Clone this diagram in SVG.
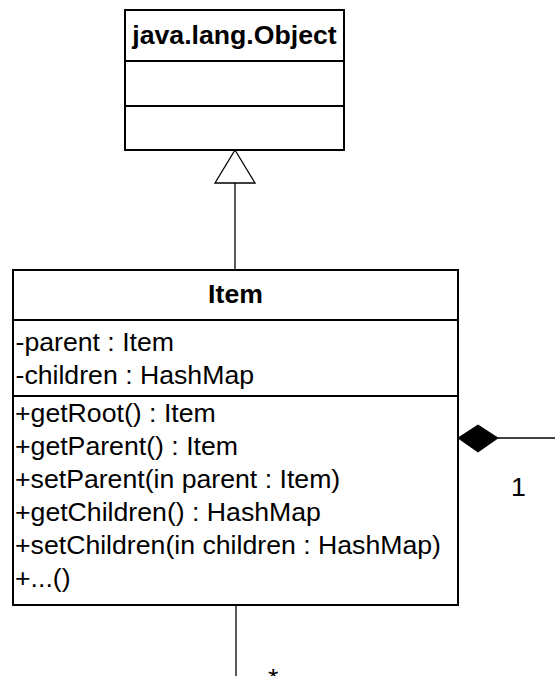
<svg xmlns="http://www.w3.org/2000/svg" width="555" height="676" viewBox="0 0 555 676">
  <style>
    .box { fill: #ffffff; stroke: #000000; stroke-width: 2; }
    .sep { stroke: #000000; stroke-width: 2; }
    .title { font-family: "Liberation Sans", Arial, sans-serif; font-size: 26.67px; font-weight: bold; fill: #000000; text-anchor: middle; }
    .member { font-family: "Liberation Sans", Arial, sans-serif; font-size: 26.67px; fill: #000000; }
    .conn { stroke: #000000; stroke-width: 1.3; fill: none; }
    .label { font-family: "Liberation Sans", Arial, sans-serif; font-size: 26.67px; fill: #000000; }
  </style>
  <rect width="555" height="676" fill="#ffffff"/>

  <g id="connectors">
    <line class="conn" x1="235" y1="183" x2="235" y2="270"/>
    <polygon points="235,150 255,183 215,183" fill="#ffffff" stroke="#000000" stroke-width="1.3"/>
    <line class="conn" x1="498" y1="438" x2="555" y2="438"/>
    <polygon points="458,438 478,425 498,438 478,452" fill="#000000" stroke="#000000" stroke-width="1"/>
    <line class="conn" x1="236" y1="605" x2="236" y2="676"/>
    <text class="label" x="511" y="495.5">1</text>
    <text class="label" x="268" y="686.5">*</text>
  </g>

  <g id="java-lang-object">
    <rect class="box" x="125" y="10" width="219" height="140"/>
    <line class="sep" x1="125" y1="61" x2="344" y2="61"/>
    <line class="sep" x1="125" y1="106" x2="344" y2="106"/>
    <text class="title" x="234.5" y="44">java.lang.Object</text>
  </g>

  <g id="item">
    <rect class="box" x="13" y="270" width="445" height="335"/>
    <line class="sep" x1="13" y1="320" x2="458" y2="320"/>
    <line class="sep" x1="13" y1="396" x2="458" y2="396"/>
    <text class="title" x="235.5" y="303">Item</text>
    <text class="member" x="15.5" y="351">-parent : Item</text>
    <text class="member" x="15.5" y="384">-children : HashMap</text>
    <text class="member" x="15" y="422">+getRoot() : Item</text>
    <text class="member" x="15" y="455">+getParent() : Item</text>
    <text class="member" x="15" y="488">+setParent(in parent : Item)</text>
    <text class="member" x="15" y="521">+getChildren() : HashMap</text>
    <text class="member" x="15" y="554">+setChildren(in children : HashMap)</text>
    <text class="member" x="15" y="587">+...()</text>
  </g>
</svg>
